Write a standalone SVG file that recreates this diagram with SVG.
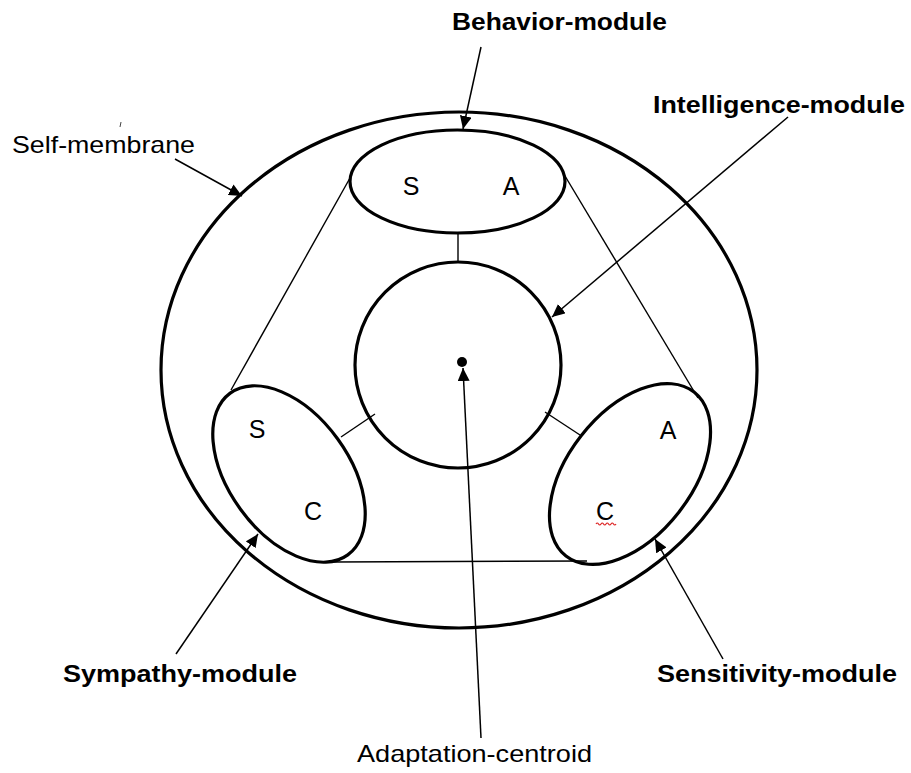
<svg xmlns="http://www.w3.org/2000/svg" width="911" height="773" viewBox="0 0 911 773">
<defs>
<style>
.shape{fill:none;stroke:#000;stroke-width:3.2}
.thin{fill:none;stroke:#000;stroke-width:1.4}
.arr{fill:none;stroke:#000;stroke-width:1.5;marker-end:url(#ah)}
.lbl{font-family:"Liberation Sans",Arial,sans-serif;font-size:24px;fill:#000}
.b{font-weight:bold}
.let{font-family:"Liberation Sans",Arial,sans-serif;font-size:25px;fill:#000;text-anchor:middle}
</style>
<marker id="ah" markerUnits="userSpaceOnUse" markerWidth="14" markerHeight="12" refX="13" refY="6" orient="auto">
<path d="M0,0 L13,6 L0,12 Z" fill="#000"/>
</marker>
</defs>
<rect width="911" height="773" fill="#fff"/>

<g id="self-membrane">
<ellipse class="shape" cx="459" cy="370" rx="298" ry="258" stroke-width="3.6"/>
</g>

<g id="connectors">
<line class="thin" x1="350" y1="178" x2="231" y2="390"/>
<line class="thin" x1="565" y1="176" x2="698" y2="398"/>
<line class="thin" x1="333" y1="562" x2="587" y2="561"/>
<line class="thin" x1="458" y1="233" x2="458" y2="263"/>
<line class="thin" x1="375" y1="414" x2="341" y2="437"/>
<line class="thin" x1="545" y1="412" x2="580" y2="435"/>
<line class="arr" x1="481" y1="47" x2="463" y2="129"/>
<line class="arr" x1="175" y1="159" x2="242" y2="196"/>
<line class="arr" x1="788" y1="117" x2="552" y2="317"/>
<line class="arr" x1="176" y1="654" x2="258" y2="534"/>
<line class="arr" x1="723" y1="659" x2="655" y2="539"/>
<line class="arr" x1="481" y1="738" x2="463" y2="368"/>
<line x1="121" y1="122" x2="120" y2="127" stroke="#444" stroke-width="1"/>
</g>

<g id="behavior-module">
<ellipse class="shape" cx="457.5" cy="181.5" rx="107.5" ry="51.5"/>
<text class="let" x="411" y="195">S</text>
<text class="let" x="511" y="195">A</text>
</g>

<g id="intelligence-module">
<circle class="shape" cx="458" cy="365" r="103"/>
</g>

<g id="adaptation-centroid">
<circle cx="462" cy="362" r="5" fill="#000"/>
</g>

<g id="sympathy-module">
<ellipse class="shape" cx="289" cy="474" rx="100" ry="60" transform="rotate(54 289 474)"/>
<text class="let" x="257" y="438">S</text>
<text class="let" x="313" y="520">C</text>
</g>

<g id="sensitivity-module">
<ellipse class="shape" cx="630" cy="474" rx="104" ry="62" transform="rotate(-52 630 474)"/>
<text class="let" x="668" y="439">A</text>
<text class="let" x="605" y="520">C</text>
<path d="M596,524 q1.25,-2 2.5,0 t2.5,0 t2.5,0 t2.5,0 t2.5,0 t2.5,0 t2.5,0 t2.5,0" fill="none" stroke="#d22" stroke-width="1.2"/>
</g>

<g id="labels">
<text class="lbl b" x="452" y="30" textLength="215" lengthAdjust="spacingAndGlyphs">Behavior-module</text>
<text class="lbl b" x="653" y="113" textLength="252" lengthAdjust="spacingAndGlyphs">Intelligence-module</text>
<text class="lbl" x="12" y="153" font-size="26" textLength="183" lengthAdjust="spacingAndGlyphs">Self-membrane</text>
<text class="lbl b" x="63" y="682" textLength="234" lengthAdjust="spacingAndGlyphs">Sympathy-module</text>
<text class="lbl b" x="657" y="682" textLength="240" lengthAdjust="spacingAndGlyphs">Sensitivity-module</text>
<text class="lbl" x="357" y="762" textLength="235" lengthAdjust="spacingAndGlyphs">Adaptation-centroid</text>
</g>
</svg>
